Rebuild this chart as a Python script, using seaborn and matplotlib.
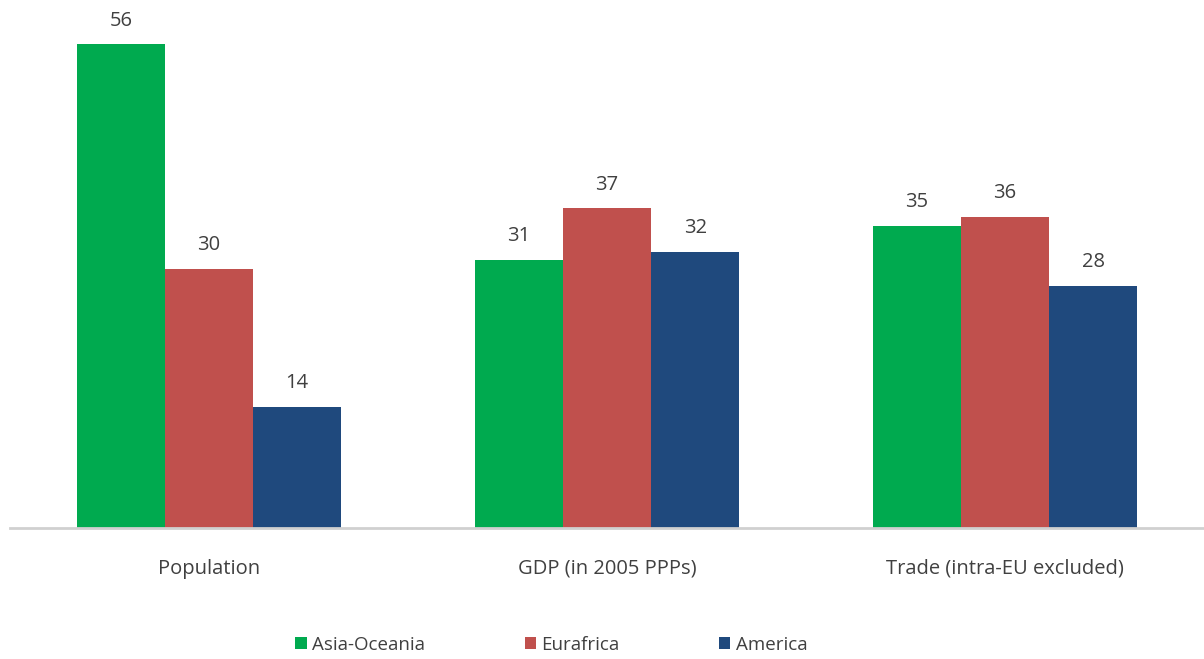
import matplotlib
matplotlib.use("Agg")
import matplotlib.pyplot as plt
import seaborn as sns
import pandas as pd

categories = ["Population", "GDP (in 2005 PPPs)", "Trade (intra-EU excluded)"]
regions = ["Asia-Oceania", "Eurafrica", "America"]
asia_oceania = [56, 31, 35]
eurafrica = [30, 37, 36]
america = [14, 32, 28]
colors = ["#00AA4F", "#C0504D", "#1F497D"]

rows = []
for reg, vals in zip(regions, [asia_oceania, eurafrica, america]):
    for cat, v in zip(categories, vals):
        rows.append({"category": cat, "region": reg, "value": v})
df = pd.DataFrame(rows)

sns.set_theme(style="white")
plt.rcParams['font.family'] = ['Open Sans', 'DejaVu Sans']

fig = plt.figure(figsize=(12.04, 6.59), dpi=100)
ax = fig.add_axes([0.0083, 0.1988, 0.9917, 0.7862])
sns.barplot(data=df, x="category", y="value", hue="region", palette=colors,
            width=0.665, saturation=1, ax=ax, legend=True, errorbar=None,
            linewidth=0, edgecolor="none")

for c in ax.containers:
    ax.bar_label(c, labels=[f"{int(v)}" for v in c.datavalues], padding=10,
                 fontsize=14.5, color="#404040")

ax.set_xlim(-0.5, 2.5)
ax.set_ylim(0, 60)
ax.set_xlabel("")
ax.set_ylabel("")
ax.set_yticks([])
for s in ["top", "right", "left"]:
    ax.spines[s].set_visible(False)
ax.spines["bottom"].set_color("#d0d0d0")
ax.spines["bottom"].set_linewidth(2)
ax.tick_params(axis="x", length=0, pad=22, labelsize=14.5, labelcolor="#404040")

handles, labels = ax.get_legend_handles_labels()
ax.legend_.remove()
fig.legend(handles, labels, loc="center", bbox_to_anchor=(0.458, 0.022), ncol=3,
           frameon=False, fontsize=13.5, handlelength=0.6, handleheight=0.6,
           handletextpad=0.3, columnspacing=5.3, labelcolor="#404040")

fig.savefig("out.png", dpi=100)
